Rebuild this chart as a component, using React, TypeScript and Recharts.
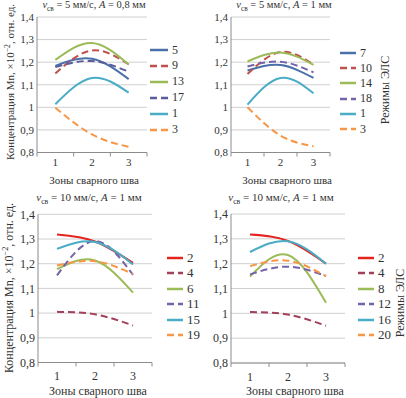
import React from "react"
import { LineChart, Line, XAxis, YAxis, CartesianGrid } from "recharts"

const zones = [1, 2, 3]
const yTicks = [0.8, 0.9, 1, 1.1, 1.2, 1.3, 1.4]
const xTicks = [0.5, 1, 1.5, 2, 2.5, 3, 3.5]

// v = 5 mm/s, A = 0.8 mm
const tl5 = [1.183, 1.215, 1.125]
const tl9 = [1.15, 1.252, 1.19]
const tl13 = [1.21, 1.285, 1.19]
const tl17 = [1.178, 1.205, 1.158]
const tl1 = [1.014, 1.13, 1.065]
const tl3 = [0.998, 0.88, 0.825]

// v = 5 mm/s, A = 1 mm
const tr7 = [1.163, 1.187, 1.13]
const tr10 = [1.148, 1.245, 1.19]
const tr14 = [1.203, 1.243, 1.188]
const tr18 = [1.181, 1.202, 1.155]
const tr1 = [1.012, 1.13, 1.062]
const tr3 = [1.0, 0.875, 0.828]

// v = 10 mm/s, A = 1 mm (left)
const bl2 = [1.318, 1.29, 1.203]
const bl4 = [1.005, 0.995, 0.95]
const bl6 = [1.178, 1.213, 1.083]
const bl11 = [1.153, 1.292, 1.155]
const bl15 = [1.26, 1.288, 1.197]
const bl19 = [1.193, 1.21, 1.158]

// v = 10 mm/s, A = 1 mm (right)
const br2 = [1.317, 1.292, 1.2]
const br4 = [1.005, 0.995, 0.95]
const br8 = [1.148, 1.235, 1.043]
const br12 = [1.157, 1.188, 1.15]
const br16 = [1.247, 1.29, 1.2]
const br20 = [1.19, 1.212, 1.15]

const BLUE = "#4a70a8"
const RED = "#c0504d"
const GREEN = "#9bbb59"
const PURPLE = "#7463a8"
const TEAL = "#4bacc6"
const ORANGE = "#f79646"
const BRIGHT = "#e3241f"
const WINE = "#a3405a"

type Series = { name: string; values: number[]; color: string; dashed?: boolean }

const tlSeries: Series[] = [
  { name: "5", values: tl5, color: BLUE },
  { name: "9", values: tl9, color: RED, dashed: true },
  { name: "13", values: tl13, color: GREEN },
  { name: "17", values: tl17, color: "#5a5c9e", dashed: true },
  { name: "1", values: tl1, color: TEAL },
  { name: "3", values: tl3, color: ORANGE, dashed: true },
]
const trSeries: Series[] = [
  { name: "7", values: tr7, color: BLUE },
  { name: "10", values: tr10, color: RED, dashed: true },
  { name: "14", values: tr14, color: GREEN },
  { name: "18", values: tr18, color: PURPLE, dashed: true },
  { name: "1", values: tr1, color: TEAL },
  { name: "3", values: tr3, color: ORANGE, dashed: true },
]
const blSeries: Series[] = [
  { name: "2", values: bl2, color: BRIGHT },
  { name: "4", values: bl4, color: WINE, dashed: true },
  { name: "6", values: bl6, color: GREEN },
  { name: "11", values: bl11, color: PURPLE, dashed: true },
  { name: "15", values: bl15, color: TEAL },
  { name: "19", values: bl19, color: ORANGE, dashed: true },
]
const brSeries: Series[] = [
  { name: "2", values: br2, color: BRIGHT },
  { name: "4", values: br4, color: WINE, dashed: true },
  { name: "8", values: br8, color: GREEN },
  { name: "12", values: br12, color: PURPLE, dashed: true },
  { name: "16", values: br16, color: TEAL },
  { name: "20", values: br20, color: ORANGE, dashed: true },
]

const FONT = "'Liberation Serif', 'DejaVu Serif', serif"
const TEXT = "#333"
const fmt = (v: number) => (v === 1 ? "1" : v.toFixed(1).replace(".", ","))

function Panel(props: {
  left: number
  top: number
  width: number
  height: number
  margin: { top: number; right: number; bottom: number; left: number }
  yWidth: number
  xGap: number
  fontSize: number
  series: Series[]
}) {
  const { series, xGap, fontSize } = props
  const data = zones.map((z, i) => {
    const row: Record<string, number> = { zone: z }
    series.forEach((s) => (row["s" + s.name] = s.values[i]))
    return row
  })
  const tick = (p: any) => {
    const v = p.payload.value
    if (Number.isInteger(v)) {
      return (
        <text x={p.x} y={p.y} dy="0.71em" textAnchor="middle" fontSize={fontSize} fontFamily={FONT} fill={TEXT}>
          {v}
        </text>
      )
    }
    const y0 = p.y - xGap
    return <line x1={p.x} x2={p.x} y1={y0} y2={y0 + 4} stroke="#8c8c8c" />
  }
  return (
    <div style={{ position: "absolute", left: props.left, top: props.top }}>
      <LineChart width={props.width} height={props.height} data={data} margin={props.margin}>
        <CartesianGrid vertical={false} stroke="#d0d0d0" />
        <XAxis
          dataKey="zone"
          type="number"
          domain={[0.5, 3.5]}
          ticks={xTicks}
          interval={0}
          tickLine={false}
          tickSize={0}
          tickMargin={xGap}
          axisLine={{ stroke: "#8c8c8c" }}
          tick={tick}
          height={20}
        />
        <YAxis
          domain={[0.8, 1.4]}
          ticks={yTicks}
          interval={0}
          width={props.yWidth}
          tickLine={false}
          tickSize={0}
          tickMargin={3}
          tickFormatter={fmt}
          axisLine={{ stroke: "#8c8c8c" }}
          tick={{ fontSize, fontFamily: FONT, fill: TEXT }}
        />
        {series.map((s) => (
          <Line
            key={s.name}
            dataKey={"s" + s.name}
            type="natural"
            stroke={s.color}
            strokeWidth={2}
            strokeDasharray={s.dashed ? "7 4" : undefined}
            dot={false}
            isAnimationActive={false}
          />
        ))}
      </LineChart>
    </div>
  )
}

function LegendBox(props: { left: number; top: number; step: number; lineW: number; fontSize: number; series: Series[] }) {
  return (
    <div style={{ position: "absolute", left: props.left, top: props.top }}>
      {props.series.map((s, i) => (
        <div
          key={s.name}
          style={{ position: "absolute", top: i * props.step - 8, left: 0, height: 16, display: "flex", alignItems: "center", whiteSpace: "nowrap" }}
        >
          <svg width={props.lineW} height={4}>
            <line x1={0} x2={props.lineW} y1={2} y2={2} stroke={s.color} strokeWidth={2.5} strokeDasharray={s.dashed ? "7 4" : undefined} />
          </svg>
          <span style={{ marginLeft: 4, fontSize: props.fontSize, fontFamily: FONT, color: TEXT }}>{s.name}</span>
        </div>
      ))}
    </div>
  )
}

function Label(props: { x: number; y: number; size: number; rotate?: boolean; children: React.ReactNode }) {
  return (
    <div
      style={{
        position: "absolute",
        left: props.x,
        top: props.y,
        transform: `translate(-50%, -50%)${props.rotate ? " rotate(-90deg)" : ""}`,
        whiteSpace: "nowrap",
        fontFamily: FONT,
        fontSize: props.size,
        color: TEXT,
        lineHeight: 1,
      }}
    >
      {props.children}
    </div>
  )
}

const title = (v: string, a: string) => (
  <>
    <i>v</i>
    <sub style={{ fontSize: "0.7em" }}>св</sub> = {v} мм/с, <i>A</i> = {a} мм
  </>
)

const yLabel = (
  <>
    Концентрация Mn, ×10<sup style={{ fontSize: "0.7em" }}>−2</sup>, отн. ед.
  </>
)

export default function App() {
  return (
    <div style={{ position: "absolute", left: 0, top: 0, width: 406, height: 398, background: "#fff", overflow: "hidden" }}>
      <Panel left={0} top={0} width={203} height={198} margin={{ top: 17, right: 56, bottom: 25.5, left: 9 }} yWidth={28} xGap={6} fontSize={11} series={tlSeries} />
      <Panel left={203} top={0} width={203} height={198} margin={{ top: 17, right: 76, bottom: 25.5, left: 2 }} yWidth={26} xGap={6} fontSize={11} series={trSeries} />
      <Panel left={0} top={198} width={203} height={200} margin={{ top: 16.3, right: 51, bottom: 15.5, left: 10 }} yWidth={28} xGap={9} fontSize={12} series={blSeries} />
      <Panel left={203} top={198} width={203} height={200} margin={{ top: 16, right: 61, bottom: 15, left: 2 }} yWidth={26} xGap={9} fontSize={12} series={brSeries} />

      <LegendBox left={150} top={50} step={15.9} lineW={18} fontSize={12} series={tlSeries} />
      <LegendBox left={340} top={53} step={15.2} lineW={16} fontSize={12} series={trSeries} />
      <LegendBox left={167} top={258} step={15.4} lineW={16} fontSize={13} series={blSeries} />
      <LegendBox left={358} top={258} step={15.4} lineW={16} fontSize={13} series={brSeries} />

      <Label x={94} y={6} size={10.5}>{title("5", "0,8")}</Label>
      <Label x={284} y={6} size={10.5}>{title("5", "1")}</Label>
      <Label x={89} y={199} size={11}>{title("10", "1")}</Label>
      <Label x={281} y={199} size={11}>{title("10", "1")}</Label>

      <Label x={94} y={180} size={11}>Зоны сварного шва</Label>
      <Label x={287} y={180} size={11}>Зоны сварного шва</Label>
      <Label x={98} y={391} size={12}>Зоны сварного шва</Label>
      <Label x={295} y={391} size={12}>Зоны сварного шва</Label>

      <Label x={10} y={82} size={11} rotate>{yLabel}</Label>
      <Label x={8} y={288} size={12} rotate>{yLabel}</Label>

      <Label x={385} y={90} size={12} rotate>Режимы ЭЛС</Label>
      <Label x={399.5} y={303} size={12} rotate>Режимы ЭЛС</Label>
    </div>
  )
}
